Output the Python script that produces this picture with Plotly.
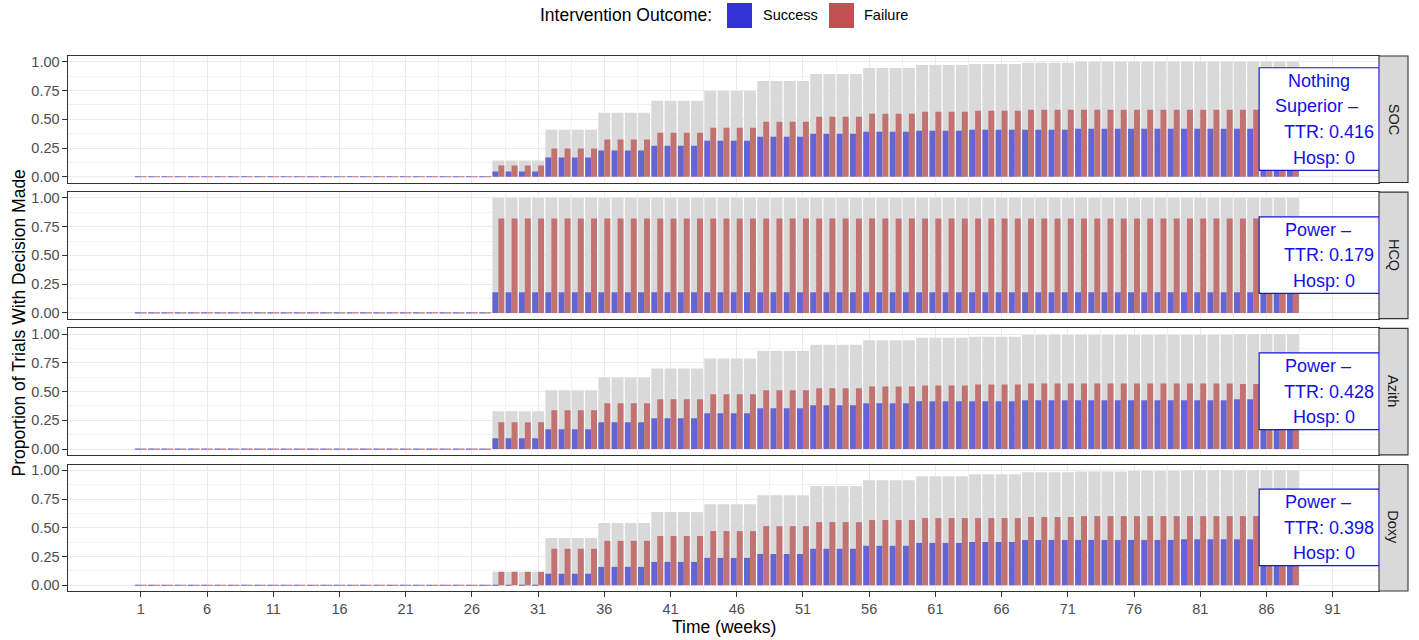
import plotly.graph_objects as go

# ---------------- data ----------------
panels = ["SOC", "HCQ", "Azith", "Doxy"]
weeks = list(range(1, 89))
n_zero_weeks = 27          # weeks 1-27: no decisions yet
step_len = 4               # interim analyses every 4 weeks from week 28

success_soc = [0.046, 0.167, 0.228, 0.270, 0.314, 0.348, 0.374, 0.392, 0.400, 0.409, 0.409, 0.418, 0.418, 0.418, 0.418, 0.416]
failure_soc = [0.098, 0.245, 0.323, 0.383, 0.427, 0.479, 0.522, 0.548, 0.565, 0.574, 0.582, 0.582, 0.582, 0.582, 0.582, 0.584]
total_soc = [0.141, 0.409, 0.556, 0.660, 0.746, 0.833, 0.894, 0.946, 0.972, 0.980, 0.991, 1.0, 1.0, 1.0, 1.0, 1.0]

success_hcq = [0.179, 0.179, 0.179, 0.179, 0.179, 0.179, 0.179, 0.179, 0.179, 0.179, 0.179, 0.179, 0.179, 0.179, 0.179, 0.179]
failure_hcq = [0.821, 0.821, 0.821, 0.821, 0.821, 0.821, 0.821, 0.821, 0.821, 0.821, 0.821, 0.821, 0.821, 0.821, 0.821, 0.821]
total_hcq = [1.0, 1.0, 1.0, 1.0, 1.0, 1.0, 1.0, 1.0, 1.0, 1.0, 1.0, 1.0, 1.0, 1.0, 1.0, 1.0]

success_azith = [0.095, 0.173, 0.234, 0.268, 0.311, 0.355, 0.381, 0.398, 0.415, 0.415, 0.424, 0.424, 0.424, 0.424, 0.433, 0.428]
failure_azith = [0.234, 0.337, 0.398, 0.433, 0.476, 0.511, 0.528, 0.545, 0.553, 0.562, 0.571, 0.571, 0.571, 0.571, 0.567, 0.572]
total_azith = [0.329, 0.511, 0.623, 0.700, 0.787, 0.856, 0.908, 0.946, 0.969, 0.977, 0.995, 0.995, 0.995, 0.995, 1.0, 1.0]

success_doxy = [0.0, 0.100, 0.160, 0.203, 0.238, 0.272, 0.317, 0.343, 0.368, 0.376, 0.394, 0.394, 0.394, 0.400, 0.400, 0.398]
failure_doxy = [0.117, 0.317, 0.386, 0.428, 0.471, 0.514, 0.549, 0.567, 0.584, 0.584, 0.593, 0.601, 0.601, 0.601, 0.601, 0.602]
total_doxy = [0.117, 0.411, 0.541, 0.636, 0.705, 0.783, 0.861, 0.913, 0.948, 0.965, 0.982, 0.990, 0.995, 1.0, 1.0, 1.0]

labels = {
    "SOC": ["Nothing", "Superior \u2013", "TTR: 0.416", "Hosp: 0"],
    "HCQ": ["Power \u2013", "TTR: 0.179", "Hosp: 0"],
    "Azith": ["Power \u2013", "TTR: 0.428", "Hosp: 0"],
    "Doxy": ["Power \u2013", "TTR: 0.398", "Hosp: 0"],
}
x_ticks = list(range(1, 92, 5))
y_ticks = [0, 0.25, 0.5, 0.75, 1.0]
y_ticktext = ["0.00", "0.25", "0.50", "0.75", "1.00"]

series = {
    "SOC": (success_soc, failure_soc, total_soc),
    "HCQ": (success_hcq, failure_hcq, total_hcq),
    "Azith": (success_azith, failure_azith, total_azith),
    "Doxy": (success_doxy, failure_doxy, total_doxy),
}


def per_week(step_values):
    """Each read step value holds for the 4 weeks of its interim period."""
    out = [0.0] * n_zero_weeks
    for v in step_values[:-1]:
        out += [v] * step_len
    out.append(step_values[-1])
    return out


# ---------------- styling ----------------
FONT = "Liberation Sans, Arial, Helvetica, sans-serif"
W, H = 1419, 640
L, R, T, B = 68, 1379, 56, 591
PW, PH = R - L, B - T
GREY = "#D9D9D9"
BLUE = "#6464D4"
RED = "#C37272"
BLUE_KEY = "#3333D5"
RED_KEY = "#C15151"
XR = [-4.5, 94.5]
YR = [-0.05, 1.05]

panel_h = 126.5
gap = (PH - 4 * panel_h) / 3


def px_x(px):
    return (px - L) / PW


def px_y(py):
    return (B - py) / PH


fig = go.Figure()
shapes = []
annotations = []

for i, name in enumerate(panels):
    k = i + 1
    xa = "x" if k == 1 else f"x{k}"
    ya = "y" if k == 1 else f"y{k}"
    s, f, t = (per_week(v) for v in series[name])

    fig.add_trace(go.Bar(x=weeks, y=t, width=0.9, offset=-0.45, marker=dict(color=GREY, line=dict(width=0)),
                         xaxis=xa, yaxis=ya, showlegend=False, hoverinfo="skip"))
    fig.add_trace(go.Bar(x=weeks, y=s, width=0.45, offset=-0.45, marker=dict(color=BLUE, line=dict(width=0)),
                         xaxis=xa, yaxis=ya, showlegend=False, name="Success"))
    fig.add_trace(go.Bar(x=weeks, y=f, width=0.45, offset=0.0, marker=dict(color=RED, line=dict(width=0)),
                         xaxis=xa, yaxis=ya, showlegend=False, name="Failure"))
    # zero-height bars are drawn as thin outlines in the reference
    zs = [(w - 0.225, v) for w, v in zip(weeks, s) if v == 0]
    zf = [(w + 0.225, v) for w, v in zip(weeks, f) if v == 0]
    for pts, col in ((zs, BLUE), (zf, RED)):
        if pts:
            fig.add_trace(go.Scatter(x=[p[0] for p in pts], y=[p[1] for p in pts], mode="markers",
                                     marker=dict(symbol="line-ew", size=4.2, line=dict(width=1.1, color=col)),
                                     xaxis=xa, yaxis=ya, showlegend=False, hoverinfo="skip"))

    top_px = T + i * (panel_h + gap)
    bot_px = top_px + panel_h
    dom = [px_y(bot_px), px_y(top_px)]

    fig.layout[f"xaxis{k if k > 1 else ''}"] = dict(
        domain=[0, 1], range=XR, anchor=ya, tickmode="array", tickvals=x_ticks,
        showticklabels=(k == 4), ticks="outside" if k == 4 else "", ticklen=4.5, tickwidth=1.1,
        tickcolor="#333333", tickfont=dict(size=14.5, color="#4D4D4D", family=FONT),
        showgrid=True, gridcolor="#EBEBEB", gridwidth=1.3,
        minor=dict(tickmode="array", tickvals=[v + 2.5 for v in x_ticks[:-1]], showgrid=True,
                   gridcolor="#F2F2F2", gridwidth=0.7, ticks=""),
        showline=True, mirror=True, linecolor="#333333", linewidth=1.1, zeroline=False, fixedrange=True,
    )
    fig.layout[f"yaxis{k if k > 1 else ''}"] = dict(
        domain=dom, range=YR, anchor=xa, tickmode="array", tickvals=y_ticks, ticktext=y_ticktext,
        ticks="outside", ticklen=4.5, tickwidth=1.1, tickcolor="#333333",
        tickfont=dict(size=14.5, color="#4D4D4D", family=FONT),
        showgrid=True, gridcolor="#EBEBEB", gridwidth=1.3,
        minor=dict(tickmode="array", tickvals=[0.125, 0.375, 0.625, 0.875], showgrid=True,
                   gridcolor="#F2F2F2", gridwidth=0.7, ticks=""),
        showline=True, mirror=True, linecolor="#333333", linewidth=1.1, zeroline=False, fixedrange=True,
    )

    # facet strip on the right
    shapes.append(dict(type="rect", xref="paper", yref="paper", x0=1.0, x1=px_x(1408), y0=dom[0], y1=dom[1],
                       fillcolor=GREY, line=dict(color="#333333", width=1.1), layer="above"))
    annotations.append(dict(xref="paper", yref="paper", x=px_x(1393.5), y=(dom[0] + dom[1]) / 2, text=name,
                            textangle=90, showarrow=False, font=dict(size=14.5, color="#1A1A1A", family=FONT),
                            xanchor="center", yanchor="middle"))

    # label box
    lines = labels[name]
    if len(lines) == 4:
        by0, by1 = 0.055, 0.948
        ys = [0.834, 0.611, 0.389, 0.166]
        lefts = [1289, 1276, 1285, 1294]
    else:
        by0, by1 = 0.170, 0.836
        ys = [0.723, 0.5, 0.277]
        lefts = [1286, 1285, 1294]
    shapes.append(dict(type="rect", xref=xa, yref=ya, x0=85.45, x1=XR[1], y0=by0, y1=by1,
                       fillcolor="white", line=dict(color="#1515E0", width=1.2), layer="above"))
    for txt, yv, lp in zip(lines, ys, lefts):
        annotations.append(dict(xref="paper", yref=ya, x=px_x(lp) - 0.0012, y=yv, text=txt, showarrow=False,
                                xanchor="left", yanchor="middle", borderpad=0,
                                font=dict(size=18, color="#1010E8", family=FONT)))

# axis titles
annotations.append(dict(xref="paper", yref="paper", x=px_x(18), y=px_y(323.5), text="Proportion of Trials With Decision Made",
                        textangle=-90, showarrow=False, xanchor="center", yanchor="middle",
                        font=dict(size=17.5, color="black", family=FONT)))
annotations.append(dict(xref="paper", yref="paper", x=0.5, y=px_y(627), text="Time (weeks)",
                        showarrow=False, xanchor="center", yanchor="middle",
                        font=dict(size=17.5, color="black", family=FONT)))

# legend (drawn manually to match the reference layout)
annotations.append(dict(xref="paper", yref="paper", x=px_x(539), y=px_y(15.5), text="Intervention Outcome:",
                        showarrow=False, xanchor="left", yanchor="middle", borderpad=0,
                        font=dict(size=17.5, color="black", family=FONT)))
shapes.append(dict(type="rect", xref="paper", yref="paper", x0=px_x(727), x1=px_x(752), y0=px_y(28), y1=px_y(3),
                   fillcolor=BLUE_KEY, line=dict(width=0)))
annotations.append(dict(xref="paper", yref="paper", x=px_x(762), y=px_y(15.5), text="Success",
                        showarrow=False, xanchor="left", yanchor="middle", borderpad=0,
                        font=dict(size=14.5, color="black", family=FONT)))
shapes.append(dict(type="rect", xref="paper", yref="paper", x0=px_x(829), x1=px_x(854), y0=px_y(28), y1=px_y(3),
                   fillcolor=RED_KEY, line=dict(width=0)))
annotations.append(dict(xref="paper", yref="paper", x=px_x(863), y=px_y(15.5), text="Failure",
                        showarrow=False, xanchor="left", yanchor="middle", borderpad=0,
                        font=dict(size=14.5, color="black", family=FONT)))

fig.update_layout(
    width=W, height=H, autosize=False,
    margin=dict(l=L, r=W - R, t=T, b=H - B, pad=0),
    barmode="overlay", showlegend=False,
    paper_bgcolor="white", plot_bgcolor="white",
    font=dict(family=FONT, color="black"),
    shapes=shapes, annotations=annotations,
)

fig.write_html(
    "out.html",
    config={"displayModeBar": False},
    post_script="document.body.style.margin='0';document.body.style.padding='0';document.body.style.overflow='hidden';",
)
